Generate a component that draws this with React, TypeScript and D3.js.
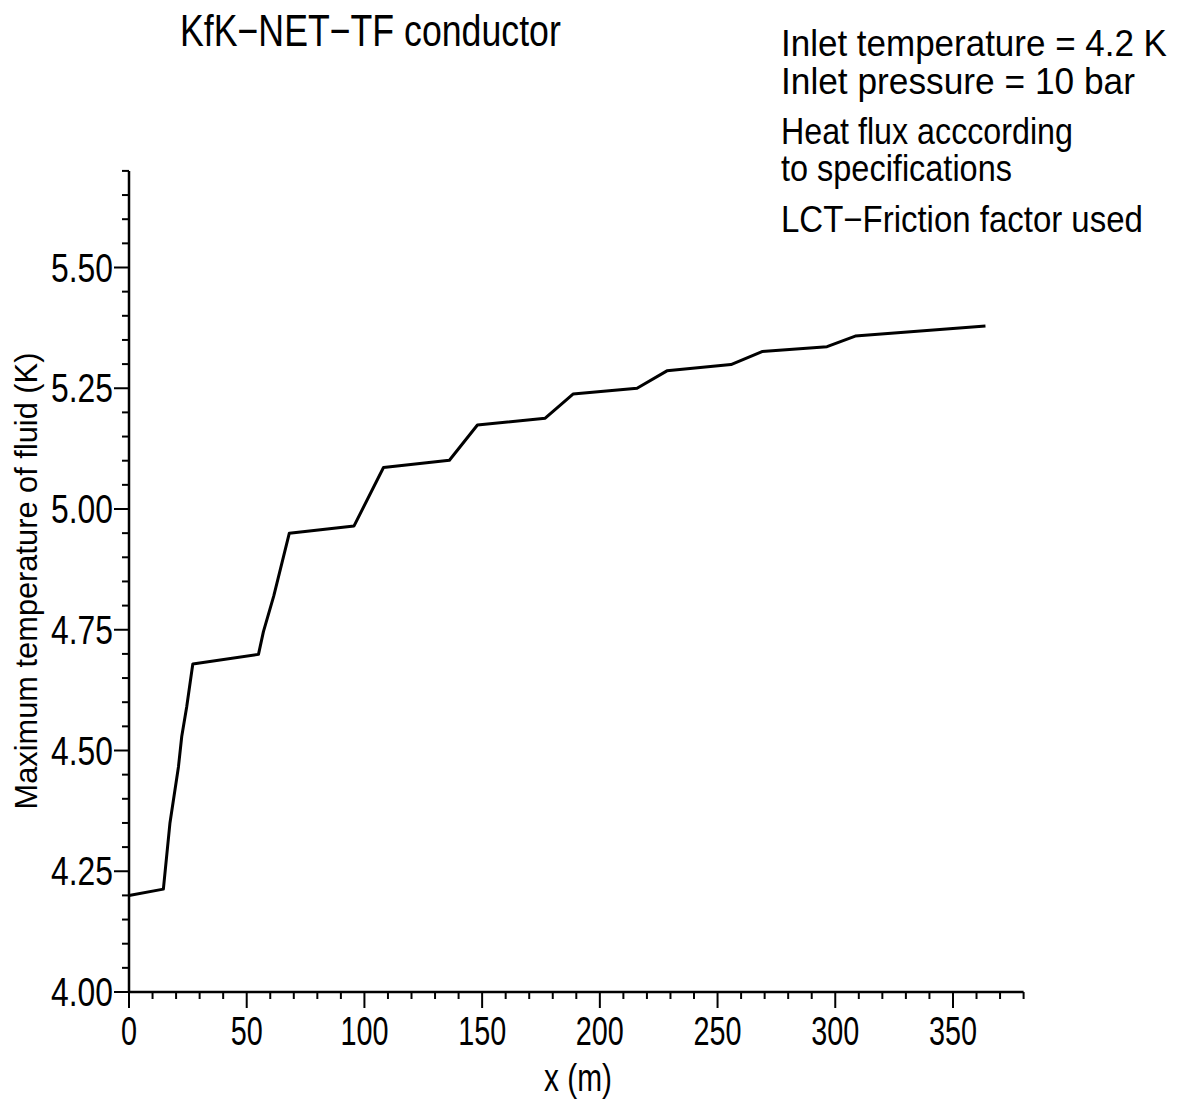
import React from "react";
import * as d3 from "d3";

const xPos = [0, 14.6, 17.4, 21.0, 22.4, 24.5, 27.1, 55.0, 57.1, 61.5, 68.1, 95.6, 108.1, 136.1, 148.0, 176.8, 188.6, 215.8, 228.5, 255.7, 268.9, 296.5, 308.5, 363.8];
const tempK = [4.200, 4.213, 4.35, 4.466, 4.529, 4.59, 4.679, 4.699, 4.746, 4.82, 4.950, 4.965, 5.086, 5.101, 5.174, 5.188, 5.238, 5.250, 5.286, 5.299, 5.326, 5.336, 5.358, 5.379];

const xTickValues = [0, 50, 100, 150, 200, 250, 300, 350];
const yTickValues = [4.0, 4.25, 4.5, 4.75, 5.0, 5.25, 5.5];
const xMinorStep = 10;
const yMinorStep = 0.05;

const titleText = "KfK\u2212NET\u2212TF conductor";
const noteLines = [
  "Inlet temperature = 4.2 K",
  "Inlet pressure = 10 bar",
  "Heat flux acccording",
  "to specifications",
  "LCT\u2212Friction factor used",
];
const xLabel = "x (m)";
const yLabel = "Maximum temperature of fluid (K)";

const FAMILY = "'Liberation Sans', Arial, sans-serif";

let ctx: CanvasRenderingContext2D | null = null;
function measure(text: string, size: number): number {
  if (!ctx) ctx = document.createElement("canvas").getContext("2d");
  if (!ctx) return text.length * size * 0.5;
  ctx.font = `${size}px ${FAMILY}`;
  return ctx.measureText(text).width;
}

// Text squeezed horizontally to a target width (condensed plotter look)
function NarrowText(props: { text: string; x: number; y: number; size: number; width: number; anchor?: "start" | "middle" | "end"; rotate?: number }) {
  const { text, x, y, size, width, anchor = "start", rotate = 0 } = props;
  const natural = measure(text, size);
  const sx = width / natural;
  return (
    <text
      transform={`translate(${x},${y}) rotate(${rotate}) scale(${sx},1)`}
      fontSize={size}
      textAnchor={anchor}
      fill="#000"
    >
      {text}
    </text>
  );
}

export default function App() {
  const x = d3.scaleLinear().domain([0, 380]).range([129, 1023.6]);
  const y = d3.scaleLinear().domain([4.0, 5.7]).range([992, 170.9]);
  const xMinor = d3.range(0, 380 + 0.001, xMinorStep).filter((v) => !xTickValues.some((t) => Math.abs(t - v) < 1e-6));
  const yMinor = d3.range(4.0, 5.7 + 0.001, yMinorStep).filter((v) => !yTickValues.some((t) => Math.abs(t - v) < 1e-6));
  const line = d3.line<number>().x((_, i) => x(xPos[i])).y((d) => y(d));

  const noteBaselines = [56, 94, 144, 181, 232];
  const noteWidths = [386, 354, 292, 231, 362];

  return (
    <svg width={1179} height={1102} style={{ position: "absolute", left: 0, top: 0, background: "#fff" }} fontFamily={FAMILY}>
      <rect width={1179} height={1102} fill="#fff" />
      <NarrowText text={titleText} x={180} y={46} size={44} width={381} />
      {noteLines.map((t, i) => (
        <NarrowText key={i} text={t} x={781} y={noteBaselines[i]} size={37} width={noteWidths[i]} />
      ))}
      {/* axes */}
      <line x1={x(0)} x2={x(0)} y1={y(5.7)} y2={y(4.0)} stroke="#000" strokeWidth={2.5} />
      <line x1={x(0)} x2={x(380)} y1={y(4.0)} y2={y(4.0)} stroke="#000" strokeWidth={2.5} />
      {yTickValues.map((v) => (
        <g key={"yt" + v}>
          <line x1={x(0) - 15} x2={x(0)} y1={y(v)} y2={y(v)} stroke="#000" strokeWidth={2} />
          <NarrowText text={v.toFixed(2)} x={x(0) - 16} y={y(v) + 14} size={40} width={62} anchor="end" />
        </g>
      ))}
      {yMinor.map((v) => (
        <line key={"ym" + v} x1={x(0) - 7} x2={x(0)} y1={y(v)} y2={y(v)} stroke="#000" strokeWidth={2} />
      ))}
      {xTickValues.map((v) => (
        <g key={"xt" + v}>
          <line x1={x(v)} x2={x(v)} y1={y(4.0)} y2={y(4.0) + 16} stroke="#000" strokeWidth={2} />
          <NarrowText text={String(v)} x={x(v)} y={1045} size={40} width={String(v).length * 16} anchor="middle" />
        </g>
      ))}
      {xMinor.map((v) => (
        <line key={"xm" + v} x1={x(v)} x2={x(v)} y1={y(4.0)} y2={y(4.0) + 7} stroke="#000" strokeWidth={2} />
      ))}
      <NarrowText text={xLabel} x={578} y={1091} size={39} width={68} anchor="middle" />
      <NarrowText text={yLabel} x={37} y={581} size={32} width={457} anchor="middle" rotate={-90} />
      <path d={line(tempK) || ""} fill="none" stroke="#000" strokeWidth={3} strokeLinejoin="round" />
    </svg>
  );
}
